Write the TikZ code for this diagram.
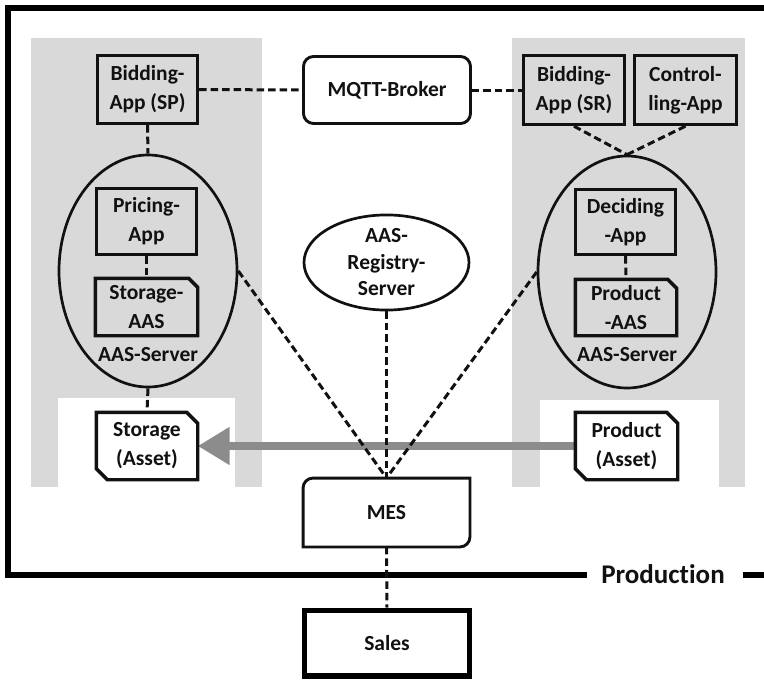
\documentclass[tikz,border=0pt]{standalone}
\usepackage{fontspec}
\setmainfont{Carlito}[Ligatures=NoCommon]
\usetikzlibrary{shapes.geometric,arrows.meta,calc}
\definecolor{panelgray}{HTML}{D9D9D9}
\definecolor{arrowgray}{HTML}{8C8C8C}
\definecolor{inkc}{HTML}{111111}
\begin{document}
\begin{tikzpicture}[x=1pt,y=-1pt,
  txt/.style={font=\fontsize{21.5}{29}\selectfont\bfseries, align=center, text=inkc, inner sep=0pt},
  appbox/.style={txt, draw=inkc, line width=3.4pt, fill=panelgray},
  assetbox/.style={txt, fill=white},
  aasbox/.style={txt, fill=panelgray},
  outline/.style={draw=inkc, line width=3.4pt, line join=miter},
  server/.style={ellipse, draw=inkc, line width=2.7pt, fill=panelgray, minimum width=178pt, minimum height=232pt, inner sep=0pt},
  dashline/.style={draw=inkc, line width=3pt, dash pattern=on 7.5pt off 4pt},
  frameline/.style={draw=black, line width=6pt, line join=miter}
]
\useasboundingbox (0,0) rectangle (764,680);

% grey panels with white notches
\fill[panelgray] (31,38) rectangle (262,487);
\fill[white] (58,398) rectangle (235,487);
\fill[panelgray] (512,38) rectangle (745,487);
\fill[white] (540,400) rectangle (719,487);

% production frame
\draw[frameline] (764,8) -- (8,8) -- (8,575) -- (587,575);
\draw[frameline] (743,575) -- (764,575);
\node[txt, font=\fontsize{27}{32}\selectfont\bfseries, anchor=base] (prod) at (663,583) {Production};

% server ellipses
\node[server] (lell) at (148,271) {};
\node[server] (rell) at (627,272) {};
\node[txt] (lsrv) at (148,355) {AAS-Server};
\node[txt] (rsrv) at (627,355) {AAS-Server};

% apps
\node[appbox, minimum width=100pt, minimum height=68pt] (bsp) at (147.5,89.5) {Bidding-\\App (SP)};
\node[appbox, minimum width=100pt, minimum height=66pt] (pricing) at (146.5,221.5) {Pricing-\\App};
\node[appbox, minimum width=101pt, minimum height=69pt] (bsr) at (574,90) {Bidding-\\App (SR)};
\node[appbox, minimum width=102pt, minimum height=69pt] (ctrl) at (685.5,90) {Control-\\ling-App};
\node[appbox, minimum width=100pt, minimum height=65pt] (deciding) at (625.5,222) {Deciding\\-App};

% MQTT broker
\node[txt, draw=inkc, line width=2.9pt, fill=white, rounded corners=10pt, minimum width=167pt, minimum height=67pt] (mqtt) at (387,90) {MQTT-Broker};

% registry
\node[txt, ellipse, draw=inkc, line width=2.7pt, fill=white, minimum width=165pt, minimum height=83pt, font=\fontsize{21.5}{26.5}\selectfont\bfseries] (reg) at (386.5,262.5) {AAS-\\Registry-\\Server};

% AAS documents (top-right corner cut)
\node[aasbox, minimum width=102pt, minimum height=57pt] (saas) at (146.5,307) {Storage-\\AAS};
\draw[outline] (saas.north west) -- ($(saas.north east)+(-9,0)$) -- ($(saas.north east)+(0,9)$) -- (saas.south east) -- (saas.south west) -- cycle;
\node[aasbox, minimum width=101pt, minimum height=56pt] (paas) at (626,307.5) {Product\\-AAS};
\draw[outline] (paas.north west) -- ($(paas.north east)+(-9,0)$) -- ($(paas.north east)+(0,9)$) -- (paas.south east) -- (paas.south west) -- cycle;

% material flow arrow
\node[assetbox, minimum width=101pt, minimum height=67pt] (sasset) at (147,446) {Storage\\(Asset)};
\node[assetbox, minimum width=102pt, minimum height=67pt] (passet) at (626.5,446) {Product\\(Asset)};
\draw[arrowgray, line width=8pt, -{Triangle[length=32pt,width=36pt]}] (passet.west) -- (sasset.east);
\draw[outline] (sasset.north west) -- ($(sasset.north east)+(-11,0)$) -- ($(sasset.north east)+(0,11)$) -- (sasset.south east) -- ($(sasset.south west)+(11,0)$) -- ($(sasset.south west)+(0,-11)$) -- cycle;
\draw[outline] (passet.north west) -- ($(passet.north east)+(-11,0)$) -- ($(passet.north east)+(0,11)$) -- (passet.south east) -- ($(passet.south west)+(11,0)$) -- ($(passet.south west)+(0,-11)$) -- cycle;

% MES (two rounded corners)
\node[txt, minimum width=166.5pt, minimum height=68.5pt] (mes) at (386.5,512.5) {MES};
\draw[draw=inkc, line width=2.9pt, fill=white] (mes.south west) -- ($(mes.north west)+(0,10)$) arc (180:270:10) -- (mes.north east) -- ($(mes.south east)+(0,-10)$) arc (0:90:10) -- cycle;
\node[txt] at (mes.center) {MES};

% Sales
\node[txt, draw=black, line width=5.5pt, minimum width=165pt, minimum height=65.5pt] (sales) at (387,643) {Sales};

% dashed connectors
\draw[dashline] (bsp.east) -- (mqtt.west);
\draw[dashline] (mqtt.east) -- (bsr.west);
\draw[dashline] (bsp.south) -- (lell.north);
\draw[dashline] (bsr.south) -- (rell.north);
\draw[dashline] (ctrl.south) -- (rell.north);
\draw[dashline] (pricing.south) -- (saas.north);
\draw[dashline] (deciding.south) -- (paas.north);
\draw[dashline] (lell.south) -- (sasset.north);
\draw[dashline] (lell.east) -- (mes.north);
\draw[dashline] (rell.west) -- (mes.north);
\draw[dashline] (reg.south) -- (mes.north);
\draw[dashline] (mes.south) -- (sales.north);
\end{tikzpicture}
\end{document}
